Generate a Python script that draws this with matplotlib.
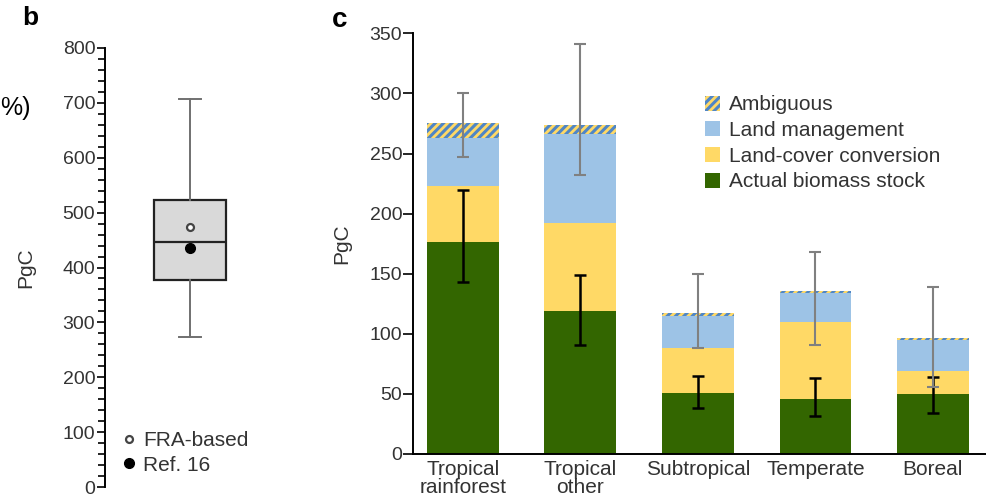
import matplotlib
matplotlib.use("Agg")
import matplotlib.pyplot as plt
from matplotlib.patches import Patch
from matplotlib.lines import Line2D
from matplotlib.ticker import MultipleLocator

plt.rcParams['font.family'] = ['Liberation Sans', 'DejaVu Sans']
plt.rcParams['hatch.linewidth'] = 2.2

# panel b: box-plot summary (PgC)
box_whislo = 274
box_q1 = 378
box_med = 447
box_q3 = 523
box_whishi = 707
fra_based = 473
ref16 = 435

# panel c: stacked components per biome (PgC)
biomes = ["Tropical\nrainforest", "Tropical\nother", "Subtropical", "Temperate", "Boreal"]
actual_stock = [176, 119, 51, 46, 50]
cover_conversion = [47, 73, 37, 64, 19]
land_management = [40, 74, 27, 24, 26]
ambiguous = [12, 8, 2, 2, 1.5]

# error ranges
actual_lo = [143, 91, 38, 32, 34]
actual_hi = [220, 149, 65, 63, 64]
potential_lo = [247, 232, 88, 91, 56]
potential_hi = [300, 341, 150, 168, 139]

GREEN = "#336600"
YELLOW = "#FFD966"
BLUE = "#9DC3E6"
HATCH_BLUE = "#4F86C6"
TXT = "#333333"

fig = plt.figure(figsize=(9.87, 5.04), dpi=100)

# ---- panel b ----
axb = fig.add_axes([105 / 987, 1 - 487.3 / 504, 180 / 987, 439.6 / 504])
stats = [dict(whislo=box_whislo, q1=box_q1, med=box_med, q3=box_q3,
              whishi=box_whishi, fliers=[])]
axb.bxp(stats, positions=[0.472], widths=0.4, capwidths=0.126, patch_artist=True,
        boxprops=dict(facecolor="#D9D9D9", edgecolor="#222222", linewidth=1.6),
        medianprops=dict(color="#222222", linewidth=1.6),
        whiskerprops=dict(color="#707070", linewidth=1.4),
        capprops=dict(color="#707070", linewidth=1.4))
axb.plot([0.472], [fra_based], marker="o", ms=5, mfc="white", mec="#444444", mew=1.6, ls="none")
axb.plot([0.472], [ref16], marker="o", ms=7, color="black", ls="none")
axb.set_xlim(0, 1)
axb.set_ylim(0, 800)
axb.yaxis.set_major_locator(MultipleLocator(100))
axb.yaxis.set_minor_locator(MultipleLocator(20))
for s in ["top", "right", "bottom"]:
    axb.spines[s].set_visible(False)
axb.spines["left"].set_linewidth(1.4)
axb.set_xticks([])
axb.tick_params(axis="y", which="major", length=6, width=1.2, labelsize=14, labelcolor=TXT, pad=1)
axb.tick_params(axis="y", which="minor", length=5, width=1.2)
axb.set_ylabel("PgC", fontsize=15, color=TXT)
axb.yaxis.set_label_coords(-0.39, 0.5)
handles_b = [Line2D([], [], marker="o", ms=5, mfc="white", mec="#444444", mew=1.6, ls="none"),
             Line2D([], [], marker="o", ms=7, color="black", ls="none")]
axb.legend(handles_b, ["FRA-based", "Ref. 16"], loc="lower left", bbox_to_anchor=(0.04, 0.005),
           frameon=False, fontsize=15, handlelength=0.6, handletextpad=0.4,
           labelspacing=0.25, borderpad=0, labelcolor=TXT)
fig.text(22 / 987, 1 - 18 / 504, "b", fontsize=19, fontweight="bold", ha="left", va="center")
fig.text(0.0, 1 - 108 / 504, "%)", fontsize=18, ha="left", va="center")

# ---- panel c ----
axc = fig.add_axes([413.3 / 987, 1 - 454 / 504, 573.7 / 987, 420.7 / 504])
x = list(range(len(biomes)))
w = 0.61
bot2 = [a + c for a, c in zip(actual_stock, cover_conversion)]
bot3 = [b + m for b, m in zip(bot2, land_management)]
axc.bar(x, actual_stock, w, color=GREEN, label="Actual biomass stock")
axc.bar(x, cover_conversion, w, bottom=actual_stock, color=YELLOW, label="Land-cover conversion")
axc.bar(x, land_management, w, bottom=bot2, color=BLUE, label="Land management")
axc.bar(x, ambiguous, w, bottom=bot3, facecolor=YELLOW, edgecolor=HATCH_BLUE,
        hatch="////", linewidth=0, label="Ambiguous")

pot_mid = [(lo + hi) / 2 for lo, hi in zip(potential_lo, potential_hi)]
pot_err = [(hi - lo) / 2 for lo, hi in zip(potential_lo, potential_hi)]
act_mid = [(lo + hi) / 2 for lo, hi in zip(actual_lo, actual_hi)]
act_err = [(hi - lo) / 2 for lo, hi in zip(actual_lo, actual_hi)]
axc.errorbar(x, act_mid, yerr=act_err, fmt="none", ecolor="black", elinewidth=1.8,
             capsize=4.5, capthick=1.8)
axc.errorbar(x, pot_mid, yerr=pot_err, fmt="none", ecolor="#808080", elinewidth=1.5,
             capsize=4.5, capthick=1.5)

axc.set_xlim(-0.42, 4.46)
axc.set_ylim(0, 350)
axc.yaxis.set_major_locator(MultipleLocator(50))
axc.set_xticks(x)
axc.set_xticklabels(biomes, fontsize=15, color=TXT, linespacing=0.95)
for s in ["top", "right"]:
    axc.spines[s].set_visible(False)
axc.spines["left"].set_linewidth(1.4)
axc.spines["bottom"].set_linewidth(1.4)
axc.tick_params(axis="y", length=7, width=1.2, labelsize=14, labelcolor=TXT, pad=1)
axc.tick_params(axis="x", length=0, pad=4)
axc.set_ylabel("PgC", fontsize=15, color=TXT)
axc.yaxis.set_label_coords(-0.108, 0.5)

handles_c = [Patch(facecolor=YELLOW, edgecolor=HATCH_BLUE, hatch="////", linewidth=0),
             Patch(facecolor=BLUE), Patch(facecolor=YELLOW), Patch(facecolor=GREEN)]
labels_c = ["Ambiguous", "Land management", "Land-cover conversion", "Actual biomass stock"]
axc.legend(handles_c, labels_c, loc="upper left", bbox_to_anchor=(0.49, 0.877), frameon=False,
           fontsize=15, handlelength=0.75, handleheight=0.75, handletextpad=0.4,
           labelspacing=0.32, borderpad=0, labelcolor=TXT)
fig.text(332 / 987, 1 - 20 / 504, "c", fontsize=20, fontweight="bold", ha="left", va="center")

fig.savefig("out.png", dpi=100)
